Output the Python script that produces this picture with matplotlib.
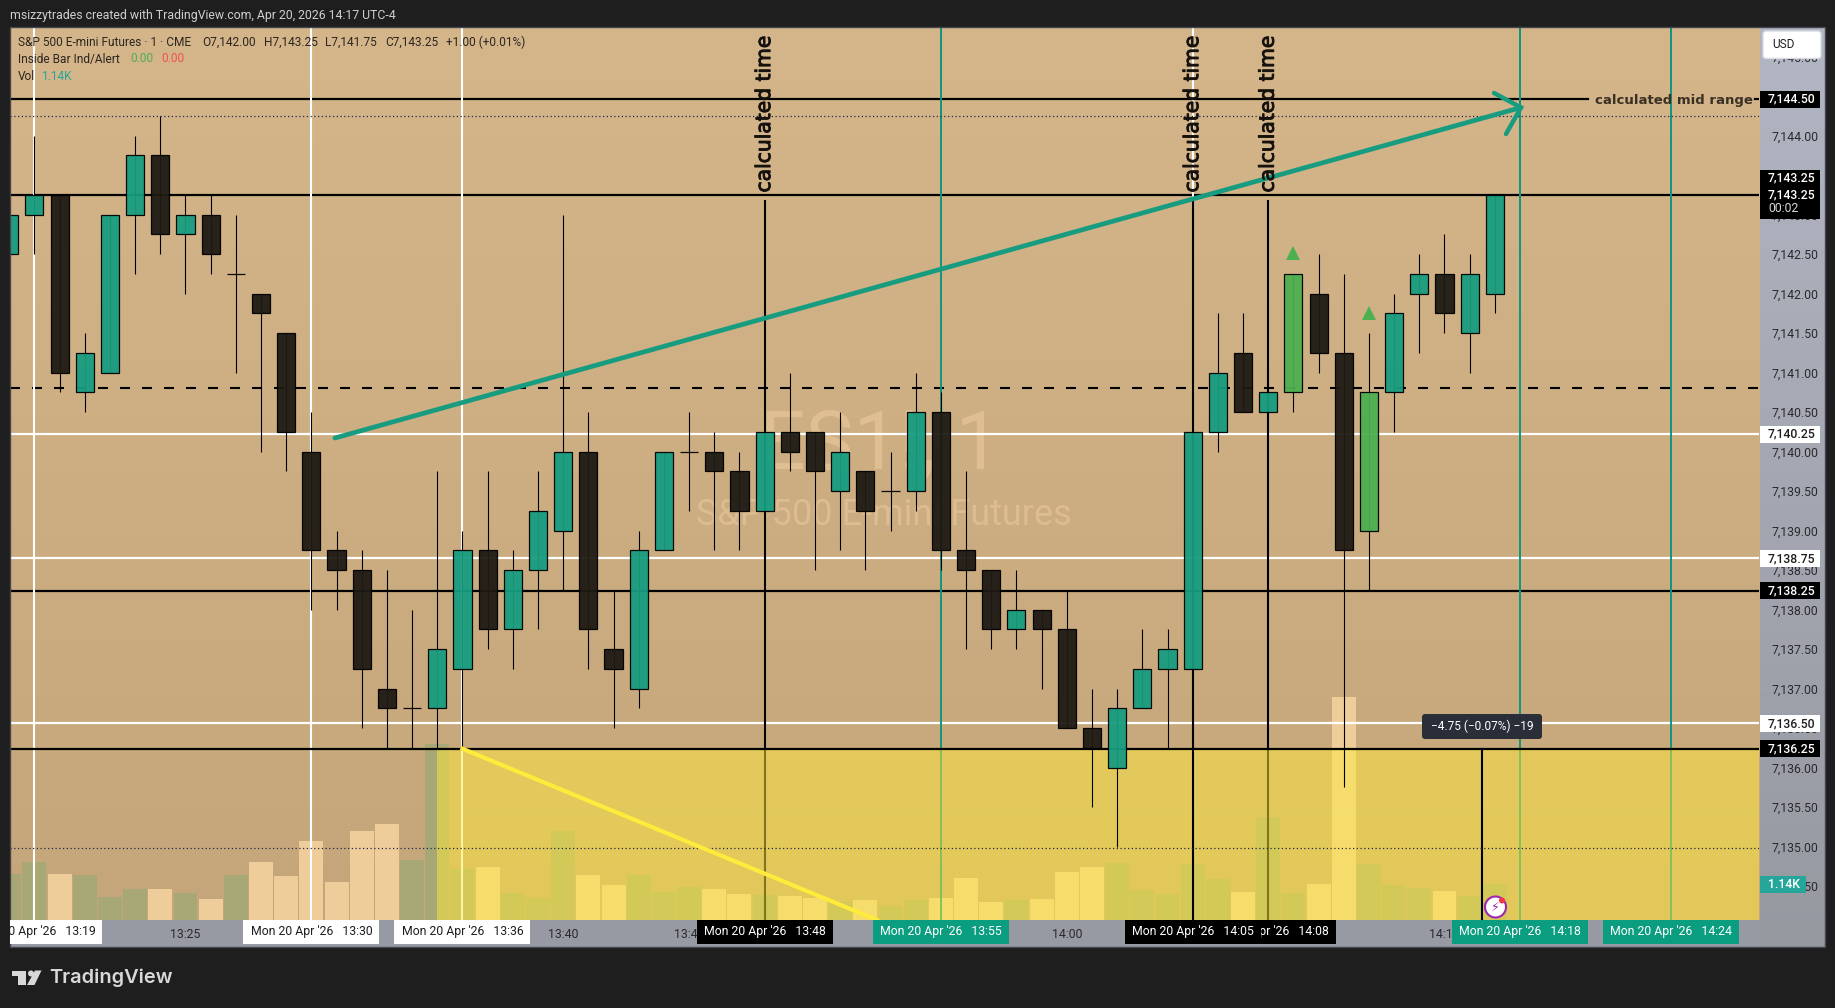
import numpy as np
import matplotlib
matplotlib.use('Agg')
import matplotlib.pyplot as plt
import matplotlib.patheffects as pe
from matplotlib.patches import Rectangle, FancyBboxPatch, Polygon, Circle

# 1 minute ES1! bars, first bar is 13:18
start_minute = 18
opens = [142.5, 143, 143.25, 140.75, 141, 143, 143.75, 142.75, 143, 142.25, 142, 141.5,
         140, 138.75, 138.5, 137, 136.75, 136.75, 137.25, 138.75, 137.75, 138.5, 139, 140,
         137.5, 137, 138.75, 140, 140, 139.75, 139.25, 140.25, 140.25, 139.5, 139.75, 139.5,
         139.5, 140.5, 138.75, 138.5, 137.75, 138, 137.75, 136.5, 136, 136.75, 137.25, 137.25,
         140.25, 141.25, 140.5, 140.75, 142, 141.25, 139, 140.75, 142, 142.25, 141.5, 142]
closes = [143, 143.25, 141, 141.25, 143, 143.75, 142.75, 143, 142.5, 142.25, 141.75, 140.25,
          138.75, 138.5, 137.25, 136.75, 136.75, 137.5, 138.75, 137.75, 138.5, 139.25, 140, 137.75,
          137.25, 138.75, 140, 140, 139.75, 139.25, 140.25, 140, 139.75, 140, 139.25, 139.5,
          140.5, 138.75, 138.5, 137.75, 138, 137.75, 136.5, 136.25, 136.75, 137.25, 137.5, 140.25,
          141, 140.5, 140.75, 142.25, 141.25, 138.75, 140.75, 141.75, 142.25, 141.75, 142.25, 143.25]
highs = [143, 144, 143.25, 141.5, 143, 144, 144.25, 143.25, 143.25, 143, 142, 141.5,
         140.5, 139, 138.75, 138.5, 138, 139.75, 139, 139.75, 138.75, 139.75, 143, 140.5,
         138.25, 139, 140, 140.5, 140.25, 140, 140.25, 141, 140.25, 140.5, 139.75, 140,
         141, 140.75, 139.75, 138.5, 138.5, 138, 138.25, 137, 137, 137.75, 137.75, 140.25,
         141.75, 141.75, 140.75, 142.25, 142.5, 142.25, 141.5, 142, 142.5, 142.75, 142.5, 143.25]
lows = [142.5, 142.5, 140.75, 140.5, 141, 142.25, 142.5, 142, 142.25, 141, 140, 139.75,
        138, 138, 136.5, 136.25, 136.25, 136.25, 136.25, 137.5, 137.25, 137.75, 138.25, 137.25,
        136.5, 136.75, 138.75, 139.25, 138.75, 138.75, 139.25, 139.75, 138.5, 138.75, 138.5, 139,
        139.25, 138.5, 137.5, 137.5, 137.5, 137, 136.5, 135.5, 135, 136.75, 136.25, 137.25,
        140, 140.5, 140.5, 140.5, 141, 135.75, 138.25, 140.25, 141.25, 141.5, 141, 141.75]
volumes = [1460, 1840, 1460, 1430, 730, 980, 980, 860, 670, 1430, 1840, 1390,
           2500, 1200, 2820, 3040, 1900, 5580, 1620, 1680, 860, 700, 2820, 1430,
           1110, 1430, 890, 1050, 980, 820, 790, 760, 700, 580, 630, 440,
           630, 700, 1330, 570, 630, 670, 1520, 1680, 1810, 950, 820, 1770,
           1300, 890, 3260, 860, 1140, 7060, 1770, 1110, 1010, 920, 760, 1140]
inside_bar_minutes = [69, 72]
signal_minutes = [69, 72]
signal_prices = [142.51, 141.75]

price_ticks = [134.5 + 0.5 * i for i in range(22)]
time_tick_minutes = [25, 40, 45, 60, 75]
time_tick_labels = ['13:25', '13:40', '13:45', '14:00', '14:15']

# drawn levels and their axis labels
solid_black_levels = [143.25, 138.24]
white_levels = [140.225, 138.65, 136.56]
dashed_level = 140.806
dotted_levels = [144.245, 134.98]
mid_range_level = 144.46
box_level = 136.24

white_times = [19, 30, 36]
teal_times = [55, 78, 84]
black_times = [48, 65, 68]
measure_time = 76.5

BG_TOP = (213, 182, 139)
BG_BOTTOM = (197, 166, 122)
DARK = '#1e1e1e'
TEAL = '#179c80'
TEAL_LINE = '#0e9680'
CANDLE_BLACK = '#1e1a14'
GREEN = '#4caf50'
FONT = 'Roboto'

W, H = 1835, 1008
LEFT, RIGHT, TOP, BOTTOM = 10, 1759, 27, 920
FRAME_R, FRAME_B = 1825, 947


def m_to_px(m):
    return 34.4 + (m - 19) * 25.18


def px_to_m(x):
    return 19 + (x - 34.4) / 25.18


def p_to_px(p):
    return 135.7 + (144 - p) * 79.0


def px_to_p(y):
    return 144 - (y - 135.7) / 79.0


def gradient(c1, c2):
    g = np.linspace(0, 1, 256)[:, None, None]
    return (np.array(c1) * (1 - g) + np.array(c2) * g) / 255.0


plt.rcParams['font.family'] = [FONT, 'DejaVu Sans']

fig = plt.figure(figsize=(W / 100, H / 100), dpi=100, facecolor=DARK)


def add_px_axes(l, t, r, b, zorder):
    return fig.add_axes([l / W, 1 - b / H, (r - l) / W, (b - t) / H], zorder=zorder)


# panels behind the chart
side = add_px_axes(RIGHT, TOP, FRAME_R, FRAME_B, 0)
side.imshow(gradient((178, 182, 195), (150, 153, 160)), aspect='auto', extent=[0, 1, 0, 1])
side.axis('off')
bottom = add_px_axes(LEFT, BOTTOM, RIGHT, FRAME_B, 0)
bottom.set_facecolor('#979aa2')
bottom.set_xticks([])
bottom.set_yticks([])
for s in bottom.spines.values():
    s.set_visible(False)

ax = add_px_axes(LEFT, TOP, RIGHT, BOTTOM, 1)
xmin, xmax = px_to_m(LEFT), px_to_m(RIGHT)
ymin, ymax = px_to_p(BOTTOM), px_to_p(TOP)
ax.imshow(gradient(BG_TOP, BG_BOTTOM), aspect='auto', extent=[xmin, xmax, ymin, ymax], zorder=0)
ax.set_xlim(xmin, xmax)
ax.set_ylim(ymin, ymax)
for s in ax.spines.values():
    s.set_visible(False)

# watermark
ax.text(px_to_m(880), px_to_p(447), 'ES1!, 1', color='#dfbf91', fontsize=58, ha='center', va='center', zorder=0.5)
ax.text(px_to_m(884), px_to_p(515), 'S&P 500 E-mini Futures', color='#dcbc90', fontsize=26, ha='center', va='center', zorder=0.5)

minutes = np.arange(len(opens)) + start_minute
opens = np.array(opens)
closes = np.array(closes)
highs = np.array(highs)
lows = np.array(lows)
up = closes >= opens

# volumes in price units so they sort with the rest of the drawings
vol_colors = ['#a8a876' if u else '#eecd9b' for u in up]
vol_scale = (ymax - ymin) / (1140 / 36 * (BOTTOM - TOP))
ax.bar(minutes, np.array(volumes) * vol_scale, bottom=ymin, width=0.95, color=vol_colors, zorder=1)

# horizontal levels
for lv in solid_black_levels:
    ax.axhline(lv, color='black', lw=1.6, zorder=2)
for lv in white_levels:
    ax.axhline(lv, color='white', lw=1.6, zorder=2)
ax.axhline(dashed_level, color='black', lw=1.5, dashes=(4.8, 5.76), zorder=2)
ax.plot([xmin, px_to_m(1588)], [mid_range_level, mid_range_level], color='black', lw=1.6, zorder=2)
ax.plot([px_to_m(1755), xmax], [mid_range_level, mid_range_level], color='black', lw=1.6, zorder=2)

# vertical lines
for t in white_times:
    ax.axvline(t, color='white', lw=1.5, zorder=2.5)
for t in teal_times:
    ax.axvline(t, color=TEAL_LINE, lw=1.4, zorder=2.5)
top_of_black = px_to_p(201)
for t in black_times:
    # the 14:05 line sits over the yellow box, the other two under it
    ax.plot([t, t], [ymin, top_of_black], color='black', lw=1.5, zorder=3.1 if t == 65 else 2.5)
ax.plot([65, 65], [top_of_black, ymax], color='white', lw=1.5, zorder=2.4)
ax.plot([measure_time, measure_time], [ymin, box_level], color='black', lw=1.5, zorder=3.1)

# yellow box under the range low
ax.add_patch(Rectangle((35, ymin), xmax - 35, box_level - ymin, facecolor='#ffeb3b', alpha=0.5, edgecolor='none', zorder=3))
ax.axhline(box_level, color='black', lw=1.6, zorder=3.2)
for lv in dotted_levels:
    ax.axhline(lv, color='#20284a', lw=0.9, dashes=(1, 2), zorder=3.2)

# candles
body_colors = [GREEN if m in inside_bar_minutes else (TEAL if u else CANDLE_BLACK) for m, u in zip(minutes, up)]
ax.vlines(minutes, lows, highs, color='black', lw=0.8, zorder=4)
ax.bar(minutes, np.abs(closes - opens), bottom=np.minimum(opens, closes), width=0.72,
       color=body_colors, edgecolor='black', linewidth=0.9, alpha=0.95, zorder=4.1)

ax.plot(signal_minutes, signal_prices, linestyle='none', marker='^', ms=10, color=GREEN, mew=0, zorder=4.2)

# arrow lines
arrow_x = [px_to_m(335), px_to_m(1521)]
arrow_y = [px_to_p(438), px_to_p(107.5)]
ax.plot(arrow_x, arrow_y, color=TEAL, lw=3.4, solid_capstyle='round', zorder=5)
ax.plot([px_to_m(1494), px_to_m(1521), px_to_m(1506)], [px_to_p(93), px_to_p(107.5), px_to_p(134)],
        color=TEAL, lw=3.2, solid_capstyle='round', solid_joinstyle='miter', zorder=5)
ax.plot([36, px_to_m(877)], [box_level, ymin], color='#ffeb3b', lw=3, zorder=5)

for t in black_times:
    ax.text(t, px_to_p(192.5), 'calculated time', rotation=90, ha='center', va='bottom',
            family=['DejaVu Sans'], fontsize=14.6, color='#15120e', zorder=6,
            path_effects=[pe.withStroke(linewidth=0.7, foreground='#15120e')])
ax.text(px_to_m(1595), px_to_p(100), 'calculated mid range', ha='left', va='center',
        family=['DejaVu Sans'], fontsize=9.5, fontweight='bold', color='#3a3024', zorder=6)

# tick labels from the axes themselves
ax.yaxis.tick_right()
ax.set_yticks(price_ticks)
ax.set_yticklabels([f'{p + 7000:,.2f}' for p in price_ticks], fontsize=8.8, color='#2a2a2e')
ax.set_xticks(time_tick_minutes)
ax.set_xticklabels(time_tick_labels, fontsize=8.8, color='#2a2a2e')
ax.tick_params(axis='both', length=0)
ax.tick_params(axis='y', pad=9)
ax.tick_params(axis='x', pad=6)

# everything in picture pixels from here
ov = fig.add_axes([0, 0, 1, 1], zorder=3)
ov.set_xlim(0, W)
ov.set_ylim(H, 0)
ov.axis('off')
ov.add_patch(Rectangle((LEFT, TOP), FRAME_R - LEFT, FRAME_B - TOP, fill=False, edgecolor='#43464d', lw=1))

ov.text(10, 15, 'msizzytrades created with TradingView.com, Apr 20, 2026 14:17 UTC-4', color='#cfcfcf', fontsize=8.8, va='center')

legend_color = '#2b2620'
ov.text(18, 42, 'S&P 500 E-mini Futures · 1 · CME', color=legend_color, fontsize=8.6, va='center')
for x, s in zip([202, 264, 325, 385.5], ['O7,142.00', 'H7,143.25', 'L7,141.75', 'C7,143.25']):
    ov.text(x, 42, s, color=legend_color, fontsize=8.6, va='center')
ov.text(446, 42, '+1.00 (+0.01%)', color=legend_color, fontsize=8.6, va='center')
ov.text(18, 59, 'Inside Bar Ind/Alert', color=legend_color, fontsize=8.6, va='center')
ov.text(130.5, 59, '0.00', color='#4caf50', fontsize=8.6, va='center')
ov.text(161, 59, '0.00', color='#f05350', fontsize=8.6, va='center')
ov.text(18, 76, 'Vol', color=legend_color, fontsize=8.6, va='center')
ov.text(41.5, 76, '1.14K', color='#26a69a', fontsize=8.6, va='center')

# USD button
ov.add_patch(FancyBboxPatch((1763, 31), 58, 27.5, boxstyle='round,pad=0,rounding_size=3', facecolor='white', edgecolor='#d8dbe2', lw=1))
ov.text(1772, 44.5, 'USD', color='#1e1e1e', fontsize=8.6, va='center')

# price scale labels
price_boxes = [(99, '7,144.50', 'black', 'white'), (434, '7,140.25', 'white', '#1e1e1e'),
               (558.7, '7,138.75', 'white', '#1e1e1e'), (590.7, '7,138.25', 'black', 'white'),
               (723.7, '7,136.50', 'white', '#1e1e1e'), (748.7, '7,136.25', 'black', 'white')]
for y, s, bg, fg in price_boxes:
    ov.add_patch(Rectangle((1760, y - 8.5), 60, 17, facecolor=bg, edgecolor='none', zorder=3))
    ov.text(1768, y, s, color=fg, fontsize=8.8, fontweight='medium', va='center', zorder=4)
ov.add_patch(Rectangle((1760, 170), 60, 49, facecolor='black', edgecolor='none', zorder=3))
ov.text(1768, 177.5, '7,143.25', color='white', fontsize=8.8, fontweight='medium', va='center', zorder=4)
ov.text(1768, 194.5, '7,143.25', color='white', fontsize=8.8, fontweight='medium', va='center', zorder=4)
ov.text(1768, 208.5, '00:02', color='#d8d8d8', fontsize=8.8, va='center', zorder=4)
ov.add_patch(Rectangle((1760, 876), 46, 17, facecolor='#26a69a', edgecolor='none', zorder=3))
ov.text(1768, 884.7, '1.14K', color='white', fontsize=8.8, fontweight='medium', va='center', zorder=4)

# crosshair date labels, the order matters where they overlap
date_boxes = [(19, 'white', '#1e1e1e', '13:19'), (30, 'white', '#1e1e1e', '13:30'), (36, 'white', '#1e1e1e', '13:36'),
              (48, 'black', 'white', '13:48'), (55, '#0a9d80', 'white', '13:55'), (68, 'black', 'white', '14:08'),
              (65, 'black', 'white', '14:05'), (78, '#0a9d80', 'white', '14:18'), (84, '#0a9d80', 'white', '14:24')]
for i, (m, bg, fg, hhmm) in enumerate(date_boxes):
    cx = m_to_px(m)
    l = max(cx - 68, LEFT)
    r = cx + 68
    box = Rectangle((l, 920), r - l, 23.5, facecolor=bg, edgecolor='none', zorder=3 + i * 0.01)
    ov.add_patch(box)
    t = ov.text(cx, 932, f"Mon 20 Apr '26   {hhmm}", color=fg, fontsize=8.8, ha='center', va='center', zorder=3.005 + i * 0.01)
    t.set_clip_path(box)

# measuring tool label
ov.add_patch(FancyBboxPatch((1422, 714), 120, 25, boxstyle='round,pad=0,rounding_size=3', facecolor='#2a2e39', edgecolor='none', zorder=3))
ov.text(1482, 726.5, '−4.75 (−0.07%) −19', color='white', fontsize=8.6, ha='center', va='center', zorder=4)

# lightning badge
ov.add_patch(Circle((1495.5, 907), 10.5, facecolor='white', edgecolor='#9c27b0', lw=1.5, zorder=3))
ov.text(1495.5, 907, '⚡', color='#9c27b0', fontsize=9, ha='center', va='center', family=['DejaVu Sans'], zorder=4)
ov.add_patch(Circle((1502, 900.5), 3, facecolor='#f23645', edgecolor='none', zorder=4))

# footer logo
logo = '#d8d8d8'
ov.add_patch(Polygon([(12, 970.5), (26, 970.5), (26, 985), (18, 985), (18, 976), (12, 976)], facecolor=logo, edgecolor='none'))
ov.add_patch(Circle((31, 973.5), 3, facecolor=logo, edgecolor='none'))
ov.add_patch(Polygon([(35, 970.5), (41.5, 970.5), (34.5, 985), (27, 985)], facecolor=logo, edgecolor='none'))
ov.text(49, 978, 'TradingView', color=logo, fontsize=14.4, fontweight='semibold', va='center', family=['Inter', 'DejaVu Sans'])

fig.savefig('out.png', dpi=100, facecolor=DARK)
